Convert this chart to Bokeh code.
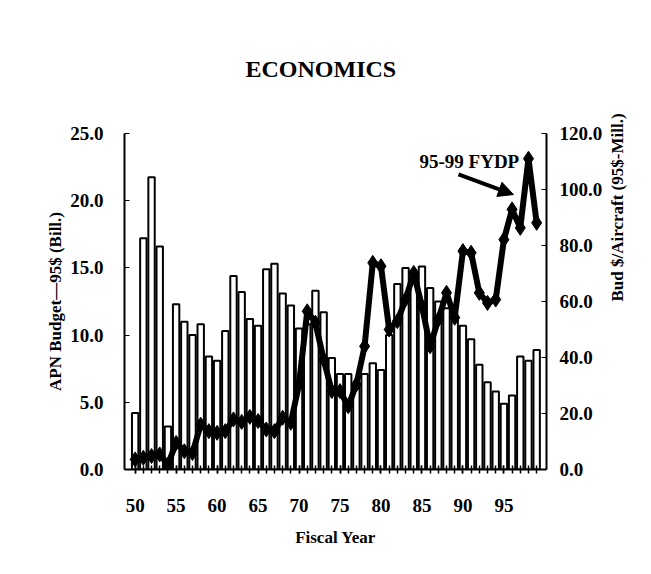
import math
from bokeh.plotting import figure
from bokeh.models import (Range1d, LinearAxis, FixedTicker, NumeralTickFormatter,
                          Label, Arrow, NormalHead, ColumnDataSource)
from bokeh.embed import file_html
from bokeh.resources import INLINE

# ---- data ----
years = list(range(50, 100))
apn_budget = [4.2, 17.2, 21.75, 16.6, 3.2, 12.3, 11.0, 10.0, 10.8, 8.4,
              8.1, 10.3, 14.4, 13.2, 11.2, 10.7, 14.9, 15.3, 13.1, 12.2,
              10.5, 10.8, 13.3, 11.7, 8.3, 7.1, 7.1, 6.3, 7.1, 7.9,
              7.4, 10.0, 13.8, 15.0, 14.5, 15.1, 13.5, 12.5, 12.0, 11.5,
              10.7, 9.7, 7.8, 6.5, 5.8, 4.9, 5.5, 8.4, 8.1, 8.9]
bud_per_aircraft = [3.6, 4.2, 4.8, 5.4, 1.8, 9.5, 6.5, 5.9, 16.0, 13.7,
                    13.1, 13.7, 17.9, 17.0, 18.8, 17.3, 14.3, 13.7, 18.5, 16.7,
                    30.4, 56.5, 52.4, 39.3, 28.0, 28.0, 22.6, 30.4, 44.0, 73.8,
                    72.6, 50.0, 53.0, 60.7, 70.2, 58.3, 44.0, 53.6, 63.1, 54.2,
                    78.0, 77.4, 63.1, 59.5, 60.7, 82.1, 92.9, 86.3, 111.0, 88.1]
x_ticks = [50, 55, 60, 65, 70, 75, 80, 85, 90, 95]
left_ticks = [0, 5, 10, 15, 20, 25]
right_ticks = [0, 20, 40, 60, 80, 100, 120]

FONT = "Liberation Serif"

src = ColumnDataSource(dict(year=years, apn=apn_budget, bud=bud_per_aircraft))

p = figure(width=641, height=558, output_backend="svg", toolbar_location=None,
           x_range=Range1d(48.7, 100.2), y_range=Range1d(0, 25),
           min_border_left=124, min_border_right=95, min_border_top=133,
           min_border_bottom=89)
p.extra_y_ranges = {"right": Range1d(0, 120)}
p.outline_line_color = None
p.grid.visible = False
p.background_fill_color = "white"
p.border_fill_color = "white"

# title
p.title.text = "ECONOMICS"
p.title.align = "left"
p.title.offset = 121
p.title.standoff = 103
p.title.text_font = FONT
p.title.text_font_style = "bold"
p.title.text_font_size = "24px"
p.title.text_color = "black"

p.vbar(x="year", top="apn", width=0.78, fill_color="white", line_color="black",
       line_width=2, source=src)
p.line(x="year", y="bud", y_range_name="right", line_color="black",
       line_width=6, source=src)
p.scatter(x="year", y="bud", y_range_name="right", marker="diamond", size=15,
          fill_color="black", line_color="black", source=src)

# x axis
xa = p.xaxis[0]
xa.ticker = FixedTicker(ticks=x_ticks, minor_ticks=years)
xa.major_tick_in = 4
xa.major_tick_out = 4
xa.minor_tick_in = 4
xa.minor_tick_out = 4
xa.major_tick_line_width = 1.5
xa.minor_tick_line_width = 1.5
xa.axis_line_width = 2
xa.major_label_standoff = 25
xa.axis_label = "Fiscal Year"
xa.axis_label_standoff = 13

# left axis
ya = p.yaxis[0]
ya.ticker = FixedTicker(ticks=left_ticks)
ya.formatter = NumeralTickFormatter(format="0.0")
ya.major_tick_in = 5
ya.major_tick_out = 0
ya.minor_tick_line_color = None
ya.axis_line_width = 2
ya.major_label_standoff = 21
ya.axis_label = "APN Budget\u201495$ (Bill.)"
ya.axis_label_standoff = 2

# right axis
ra = LinearAxis(y_range_name="right", ticker=FixedTicker(ticks=right_ticks),
                formatter=NumeralTickFormatter(format="0.0"),
                axis_label="Bud $/Aircraft (95$-Mill.)")
ra.major_tick_in = 5
ra.major_tick_out = 0
ra.minor_tick_line_color = None
ra.axis_line_width = 2
ra.major_label_standoff = 13
ra.axis_label_standoff = 12
ra.axis_label_orientation = math.pi / 2
p.add_layout(ra, "right")

for ax in (xa, ya, ra):
    ax.major_label_text_font = FONT
    ax.major_label_text_font_style = "bold"
    ax.major_label_text_font_size = "19px"
    ax.major_label_text_color = "black"
    ax.axis_label_text_font = FONT
    ax.axis_label_text_font_style = "bold"
    ax.axis_label_text_font_size = "17px"
    ax.axis_label_text_color = "black"
    ax.axis_line_color = "black"
    ax.major_tick_line_color = "black"

# annotation
p.add_layout(Label(x=84.7, y=110.0, y_range_name="right", text="95-99 FYDP",
                   text_font=FONT, text_font_style="bold", text_font_size="19px",
                   text_baseline="middle", text_color="black"))
p.add_layout(Arrow(end=NormalHead(size=15, fill_color="black", line_color="black"),
                   x_start=89.46, y_start=105.4, x_end=96.17, y_end=98.2,
                   y_range_name="right", line_width=4, line_color="black"))

open("out.html", "w").write(file_html(p, INLINE))
